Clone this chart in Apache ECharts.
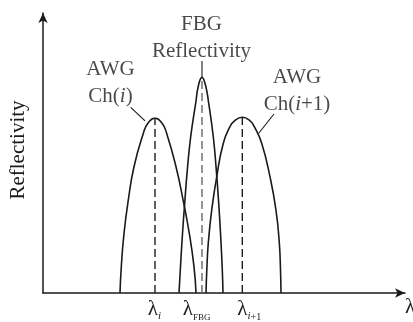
<!DOCTYPE html>
<html><head><meta charset="utf-8">
<script src="https://cdn.jsdelivr.net/npm/echarts@6/dist/echarts.min.js"></script>
<style>html,body{margin:0;padding:0;background:#fff}#c{width:413px;height:322px}</style>
</head><body><div id="c"></div>
<script>
// Spectral curves (wavelength, reflectivity) in arbitrary units 0..100
const awgI = [[21.27,0],[21.63,9.4],[22.38,21.3],[23.56,33.2],[25.14,45.1],[27.71,57.0],[28.97,60.6],[30.94,62.4],[32.9,60.6],[34.17,57.0],[36.74,45.1],[38.7,33.2],[40.41,21.3],[41.71,9.4],[42.27,0]];
const fbg = [[37.57,0],[37.93,8.2],[38.48,20.1],[39.14,32.0],[39.86,43.9],[40.80,55.8],[42.18,67.8],[42.96,74.2],[43.92,77.0],[44.89,74.2],[45.77,67.8],[47.04,55.8],[47.87,43.9],[48.54,32.0],[49.09,20.1],[49.53,8.2],[49.72,0]];
const awgI1 = [[45.03,0],[45.25,8.2],[45.66,17.9],[46.60,29.6],[47.98,41.5],[49.81,53.5],[51.66,59.4],[52.9,61.5],[55.06,62.75],[57.2,61.5],[58.37,59.4],[60.41,53.5],[62.71,41.5],[64.36,29.6],[65.28,17.9],[65.61,8.2],[65.75,0]];
// Centre wavelengths and peak reflectivities
const peakX = [30.94, 43.92, 55.06];
const peakY = [62.4, 77.0, 62.75];
// Tick labels on wavelength axis
const tickValues = [30.75, 42.46, 56.96];
const tickLabels = ['{l|λ}{si|i}', '{l|λ}{sf|FBG}', '{l|λ}{si|i}{su|+1}'];
// Annotation texts and anchors
const noteText = ['{t|AWG}\n{t|Ch(}{ti|i}{t|)}', '{t|FBG}\n{t|Reflectivity}', '{t|AWG}\n{t|Ch(}{ti|i}{t|+1)}'];
const notePos = [[18.65,75.0],[43.78,90.9],[70.17,72.1]];
// Leader lines from texts to curves
const leaders = [[[24.23,66.3],[28.18,61.5]], [[43.92,82.9],[43.92,77.0]], [[59.53,56.96],[63.81,63.93]]];

const INK = '#1a1a1a';
const FONT = '"Liberation Serif","DejaVu Serif",serif';
const chart = echarts.init(document.getElementById('c'), null, {renderer:'canvas'});

const series = [];
[awgI, fbg, awgI1].forEach(d => series.push({
  type:'line', data:d, smooth:0.5, symbol:'none', silent:true,
  lineStyle:{color:INK, width:1.6}
}));
peakX.forEach((x,i) => series.push({
  type:'line', data:[[x,0],[x,peakY[i]]], symbol:'none', silent:true,
  lineStyle:{color: i===1 ? '#666' : INK, width:1.4, type:[8,4]}
}));
leaders.forEach(d => series.push({
  type:'line', data:d, symbol:'none', silent:true,
  lineStyle:{color:INK, width:1.1}
}));
series.push({
  type:'scatter', symbolSize:0, silent:true,
  data: notePos.map((p,i) => ({value:p, label:{formatter:noteText[i]}})),
  label:{show:true, position:'inside', align:'center', verticalAlign:'middle',
    rich:{
      t:{fontFamily:FONT, fontSize:21, color:INK, lineHeight:27},
      ti:{fontFamily:FONT, fontSize:21, fontStyle:'italic', color:INK, lineHeight:27}
    }}
});

chart.setOption({
  animation:false,
  backgroundColor:'#fff',
  grid:{left:43, right:8, top:13, bottom:29, containLabel:false, outerBoundsMode:'none'},
  xAxis:{type:'value', min:0, max:100,
    name:'λ', nameLocation:'end', nameGap:0,
    nameTextStyle:{fontFamily:FONT, fontSize:21, color:INK, align:'left', verticalAlign:'top', lineHeight:28},
    axisLine:{show:true, onZero:false, symbol:['none','arrow'], symbolSize:[7,10], lineStyle:{color:INK, width:1.5}},
    axisTick:{show:false}, splitLine:{show:false},
    axisLabel:{show:true, customValues:tickValues, margin:3,
      formatter:(v)=>{ let k=0,b=1e9; tickValues.forEach((t,i)=>{const d=Math.abs(t-v); if(d<b){b=d;k=i;}}); return tickLabels[k]; },
      rich:{
        l:{fontFamily:FONT, fontSize:21, color:INK, lineHeight:26},
        si:{fontFamily:FONT, fontSize:11, fontStyle:'italic', color:INK, lineHeight:14, verticalAlign:'bottom'},
        su:{fontFamily:FONT, fontSize:10, color:INK, lineHeight:14, verticalAlign:'bottom'},
        sf:{fontFamily:FONT, fontSize:9, color:INK, lineHeight:22, verticalAlign:'bottom'}
      }}
  },
  yAxis:{type:'value', min:0, max:100,
    name:'Reflectivity', nameLocation:'middle', nameGap:25,
    nameTextStyle:{fontFamily:FONT, fontSize:21, color:INK, verticalAlign:'middle', padding:[0,0,0,6]},
    axisLine:{show:true, onZero:false, symbol:['none','arrow'], symbolSize:[7,10], lineStyle:{color:INK, width:1.5}},
    axisTick:{show:false}, splitLine:{show:false}, axisLabel:{show:false}
  },
  series
});
</script></body></html>
